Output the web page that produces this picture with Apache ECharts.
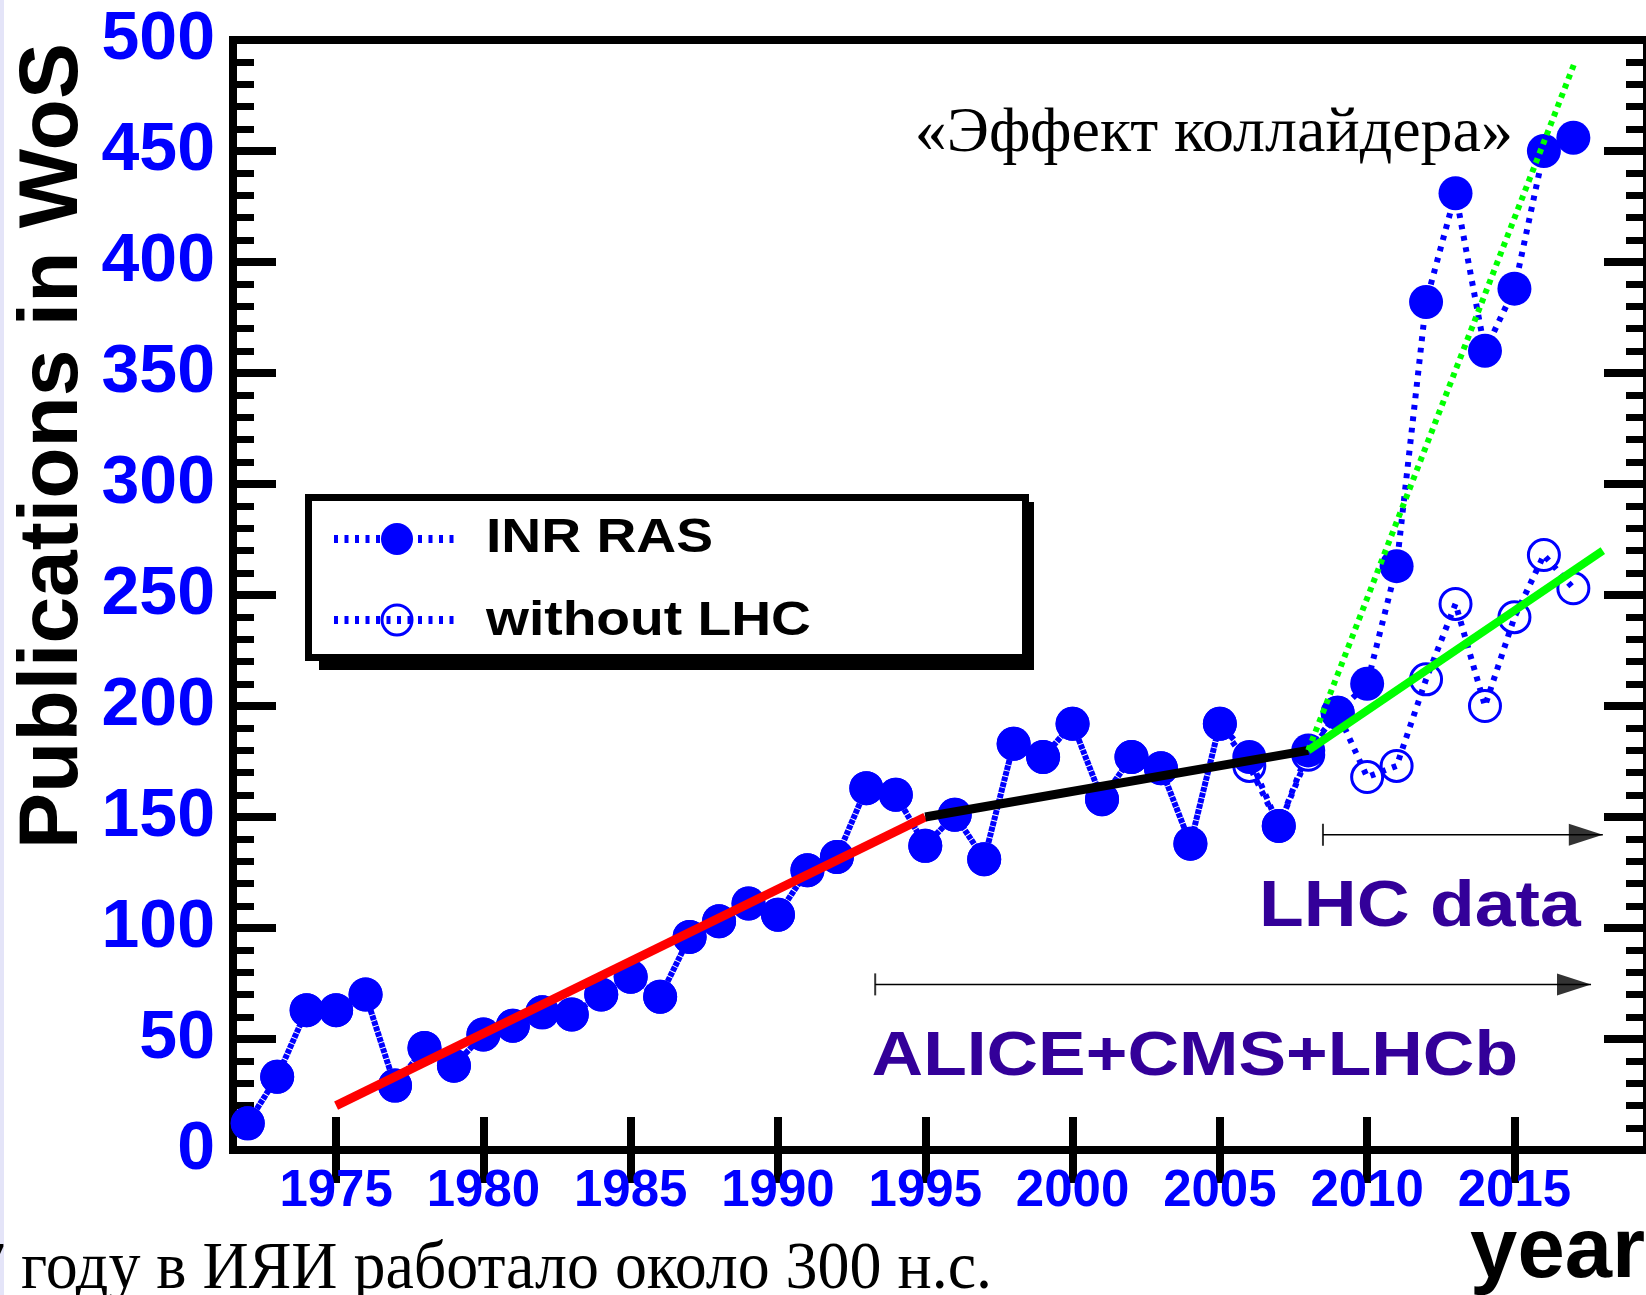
<!DOCTYPE html>
<html>
<head>
<meta charset="utf-8">
<script src="https://cdn.jsdelivr.net/npm/echarts@6/dist/echarts.min.js"></script>
<style>
html,body{margin:0;padding:0;background:#fff;}
#chart{width:1646px;height:1295px;}
</style>
</head>
<body>
<div id="chart"></div>
<script>
// ---- data ----
const years = [1972,1973,1974,1975,1976,1977,1978,1979,1980,1981,1982,1983,1984,1985,1986,1987,1988,1989,1990,1991,1992,1993,1994,1995,1996,1997,1998,1999,2000,2001,2002,2003,2004,2005,2006,2007,2008,2009,2010,2011,2012,2013,2014,2015,2016,2017];
const inrRas = [12,33,63,63,70,29,46,38,52,56,62,61,70,78,69,96,103,111,106,126,132,163,160,137,151,131,183,177,192,158,177,172,138,192,177,146,180,197,210,263,382,431,360,388,450,456];
const withoutLhc = [12,33,63,63,70,29,46,38,52,56,62,61,70,78,69,96,103,111,106,126,132,163,160,137,151,131,183,177,192,158,177,172,138,192,173,146,178,197,168,173,212,246,200,240,268,253];
const redFit = [[1975,20],[1995,150]];
const blackFit = [[1995,150],[2008,180]];
const greenFit = [[2008,180],[2018,270]];
const greenDotFit = [[2008,180],[2017.05,490]];
const lhcArrow = [[2008.5,142],[2018.0,142]];
const aliceArrow = [[1993.3,74.6],[2017.6,74.6]];
const xTickLabels = [1975,1980,1985,1990,1995,2000,2005,2010,2015];
const yTickLabels = [0,50,100,150,200,250,300,350,400,450,500];

const BLUE = '#0000ff';
const PURPLE = '#330099';
const SANS = '"Liberation Sans", Arial, Helvetica, sans-serif';
const SERIF = '"Liberation Serif", "Times New Roman", serif';

const pairs = (xs, ys) => xs.map((x, i) => [x, ys[i]]);

const chart = echarts.init(document.getElementById('chart'), null, {renderer: 'canvas'});

const xCommon = {
  type: 'value', min: 1971.5, max: 2019.5,
  axisLine: {show: false},
  splitLine: {show: false},
  axisTick: {show: true, inside: true, length: 33, customValues: xTickLabels, lineStyle: {color: '#000', width: 8}}
};
const yCommon = {
  type: 'value', min: 0, max: 500, interval: 50,
  axisLine: {show: false},
  splitLine: {show: false},
  axisTick: {show: true, inside: true, length: 43, lineStyle: {color: '#000', width: 8}},
  minorTick: {show: true, splitNumber: 5, length: 21, lineStyle: {color: '#000', width: 7}}
};

const option = {
  animation: false,
  backgroundColor: '#fff',
  grid: {left: 233, top: 40, width: 1414, height: 1110, show: true, borderColor: '#000', borderWidth: 8, backgroundColor: 'transparent', outerBoundsMode: 'none', containLabel: false},
  xAxis: [
    Object.assign({}, xCommon, {position: 'bottom',
      axisLabel: {show: true, customValues: xTickLabels, color: BLUE, fontFamily: SANS, fontWeight: 'bold', fontSize: 51, lineHeight: 51, margin: 16,
        formatter: v => String(Math.round(v))}}),
    Object.assign({}, xCommon, {position: 'top', axisLabel: {show: false}})
  ],
  yAxis: [
    Object.assign({}, yCommon, {position: 'left',
      axisLabel: {show: true, color: BLUE, fontFamily: SANS, fontWeight: 'bold', fontSize: 68, margin: 18,
        formatter: v => yTickLabels.indexOf(v) >= 0 ? String(v) : ''}}),
    Object.assign({}, yCommon, {position: 'right', axisLabel: {show: false}})
  ],
  series: [
    {
      name: 'without LHC', type: 'line', z: 2,
      data: pairs(years, withoutLhc),
      symbol: 'circle', symbolSize: 31, showAllSymbol: true,
      itemStyle: {color: 'rgba(0,0,0,0)', borderColor: BLUE, borderWidth: 3},
      lineStyle: {color: BLUE, width: 6, type: [4.8, 6.7], dashOffset: 5.75},
      emphasis: {disabled: true}
    },
    {
      name: 'INR RAS', type: 'line', z: 3,
      data: pairs(years, inrRas),
      symbol: 'circle', symbolSize: 34, showAllSymbol: true,
      itemStyle: {color: BLUE},
      lineStyle: {color: BLUE, width: 6, type: [4.8, 6.7], dashOffset: 0},
      emphasis: {disabled: true}
    },
    {type: 'line', z: 5, data: redFit, symbol: 'none', lineStyle: {color: '#ff0000', width: 9}, emphasis: {disabled: true}},
    {type: 'line', z: 5, data: blackFit, symbol: 'none', lineStyle: {color: '#000000', width: 9}, emphasis: {disabled: true}},
    {type: 'line', z: 5, data: greenFit, symbol: 'none', lineStyle: {color: '#00ff00', width: 8}, emphasis: {disabled: true}},
    {type: 'line', z: 5, data: greenDotFit, symbol: 'none', lineStyle: {color: '#00ff00', width: 6, type: [5, 5]}, emphasis: {disabled: true}},
    // arrows
    {type: 'line', z: 4, data: lhcArrow, symbol: 'none', lineStyle: {color: '#000', width: 1.5}, emphasis: {disabled: true}},
    {type: 'line', z: 4, data: aliceArrow, symbol: 'none', lineStyle: {color: '#000', width: 1.5}, emphasis: {disabled: true}},
    {type: 'scatter', z: 4, data: [lhcArrow[1], aliceArrow[1]], symbol: 'path://M0,0L34,11L0,22Z', symbolSize: [34, 22], symbolOffset: [-17, 0], itemStyle: {color: '#000'}, emphasis: {disabled: true}},
    {type: 'scatter', z: 4, data: [lhcArrow[0], aliceArrow[0]], symbol: 'rect', symbolSize: [2, 22], itemStyle: {color: '#000'}, emphasis: {disabled: true}}
  ],
  graphic: [
    {type: 'rect', shape: {x: 0, y: 0, width: 4, height: 1295}, style: {fill: '#e4e4f8'}, silent: true},
    // y axis title
    {type: 'text', x: 54, y: 446, rotation: Math.PI / 2,
      style: {text: 'Publications in WoS', font: 'bold 84px ' + SANS, fill: '#000', textAlign: 'center', textVerticalAlign: 'middle'}},
    // year
    {type: 'text', x: 1645, y: 1254, style: {text: 'year', font: 'bold 85px ' + SANS, fill: '#000', textAlign: 'right', textVerticalAlign: 'middle'}},
    // collider effect
    {type: 'text', x: 1513, y: 134, style: {text: '«Эффект коллайдера»', font: '64px ' + SERIF, fill: '#000', textAlign: 'right', textVerticalAlign: 'middle'}},
    // bottom note
    {type: 'text', x: 992, y: 1270, scaleX: 0.94, style: {text: 'В 2017 году в ИЯИ работало около 300 н.с.', font: '68px ' + SERIF, fill: '#000', textAlign: 'right', textVerticalAlign: 'middle'}},
    // LHC data / ALICE
    {type: 'text', x: 1259, y: 908, scaleX: 1.145, style: {text: 'LHC data', font: 'bold 64px ' + SANS, fill: PURPLE, textAlign: 'left', textVerticalAlign: 'middle'}},
    {type: 'text', x: 1518, y: 1058, scaleX: 1.133, style: {text: 'ALICE+CMS+LHCb', font: 'bold 63px ' + SANS, fill: PURPLE, textAlign: 'right', textVerticalAlign: 'middle'}},
    // legend box
    {type: 'rect', z: 10, shape: {x: 319, y: 502, width: 715, height: 168}, style: {fill: '#000'}},
    {type: 'rect', z: 11, shape: {x: 308.5, y: 497.5, width: 717, height: 160}, style: {fill: '#fff', stroke: '#000', lineWidth: 7}},
    {type: 'line', z: 12, shape: {x1: 334, y1: 539, x2: 460, y2: 539}, style: {stroke: BLUE, lineWidth: 8, lineDash: [4, 6.5]}},
    {type: 'circle', z: 13, shape: {cx: 397, cy: 539, r: 16}, style: {fill: BLUE}},
    {type: 'line', z: 12, shape: {x1: 334, y1: 620, x2: 460, y2: 620}, style: {stroke: BLUE, lineWidth: 8, lineDash: [4, 6.5]}},
    {type: 'circle', z: 13, shape: {cx: 397, cy: 620, r: 15}, style: {fill: 'none', stroke: BLUE, lineWidth: 3}},
    {type: 'text', z: 13, x: 486, y: 539, scaleX: 1.15, style: {text: 'INR RAS', font: 'bold 48px ' + SANS, fill: '#000', textAlign: 'left', textVerticalAlign: 'middle'}},
    {type: 'text', z: 13, x: 486, y: 622, scaleX: 1.15, style: {text: 'without LHC', font: 'bold 48px ' + SANS, fill: '#000', textAlign: 'left', textVerticalAlign: 'middle'}}
  ]
};
chart.setOption(option);
</script>
</body>
</html>
